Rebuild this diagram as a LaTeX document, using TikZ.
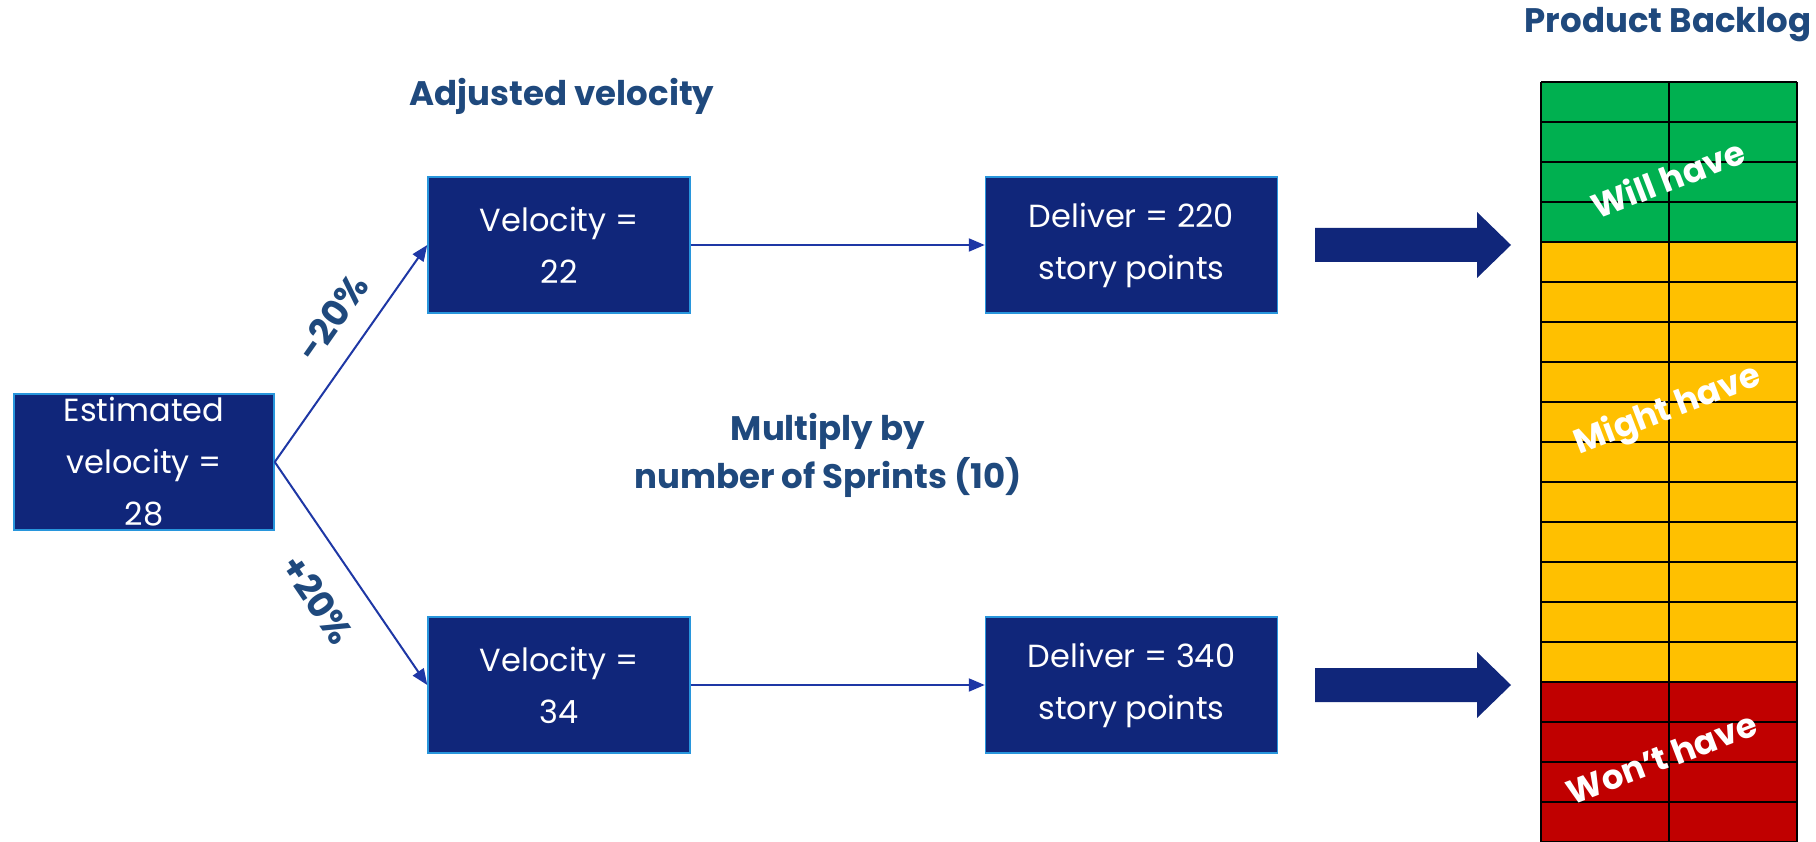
\documentclass[tikz,border=0pt]{standalone}
\usepackage{fontspec}
\setmainfont{Poppins}
\usetikzlibrary{arrows.meta, positioning}

\definecolor{boxblue}{RGB}{16,38,122}
\definecolor{boxedge}{RGB}{40,150,220}
\definecolor{linkblue}{RGB}{30,55,165}
\definecolor{headblue}{RGB}{31,73,125}
\definecolor{willgreen}{RGB}{0,176,80}
\definecolor{mightyellow}{RGB}{255,192,0}
\definecolor{wontred}{RGB}{192,0,0}

\tikzset{
  velbox/.style={draw=boxedge, line width=1.5pt, fill=boxblue, text=white,
    minimum width=262pt, minimum height=136pt, inner sep=0pt, align=center,
    font=\fontsize{32}{52}\selectfont},
  link/.style={draw=linkblue, line width=2pt, -{Triangle[length=16pt,width=13pt]}},
  heading/.style={text=headblue, font=\bfseries\fontsize{34}{48}\selectfont, align=center},
  tag/.style={text=white, font=\bfseries\fontsize{34}{36}\selectfont, rotate=21},
}

\begin{document}
\begin{tikzpicture}[x=1pt, y=-1pt]
\useasboundingbox (0,0) rectangle (1816,842);

% Velocity boxes
\node[velbox, minimum width=260pt] (est) at (144,462) {Estimated\\velocity =\\28};
\node[velbox] (v22) at (559,245) {Velocity =\\22};
\node[velbox] (v34) at (559,685) {Velocity =\\34};
\node[velbox, minimum width=292pt, right=294pt of v22] (d220) {Deliver = 220\\story points};
\node[velbox, minimum width=292pt, right=294pt of v34] (d340) {Deliver = 340\\story points};

% Adjustments
\draw[link] (est.east) -- node[heading, sloped, above=18pt, pos=0.57, font=\bfseries\fontsize{36}{40}\selectfont] (minus) {-20\%} (v22.west);
\draw[link] (est.east) -- node[heading, sloped, below=24pt, pos=0.51, font=\bfseries\fontsize{36}{40}\selectfont] (plus) {+20\%} (v34.west);
\draw[link] (v22) -- (d220);
\draw[link] (v34) -- (d340);

% Headings
\node[heading] (adj) at (562,96) {Adjusted velocity};
\node[heading] (mult) at (828,455) {Multiply by\\number of Sprints (10)};
\node[heading] (pb) at (1668,25) {Product Backlog};

% Big arrows into the backlog
\foreach \y in {245,685}
  \fill[boxblue] (1315,{\y-17}) -- (1477,{\y-17}) -- (1477,{\y-33}) -- (1511,\y)
    -- (1477,{\y+33}) -- (1477,{\y+17}) -- (1315,{\y+17}) -- cycle;

% Backlog
\fill[willgreen] (1541,82) rectangle (1797,242);
\fill[mightyellow] (1541,242) rectangle (1797,682);
\fill[wontred] (1541,682) rectangle (1797,842);
\foreach \i in {0,...,19}
  \draw[line width=2.5pt] (1541,{82+40*\i}) -- (1797,{82+40*\i});
\foreach \x in {1541,1669,1797}
  \draw[line width=2.5pt] (\x,82) -- (\x,842);

\node[tag] (will) at (1668,178) {Will have};
\node[tag] (might) at (1668,411) {Might have};
\node[tag] (wont) at (1662,758) {Won't have};
\end{tikzpicture}
\end{document}
